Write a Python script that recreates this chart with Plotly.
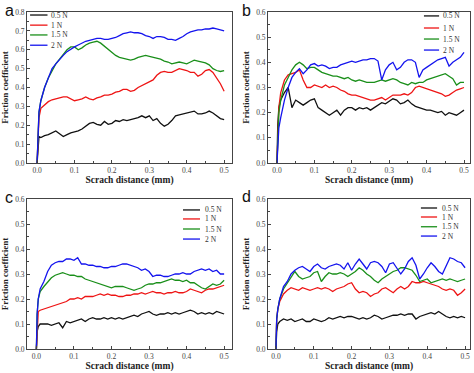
import plotly.graph_objects as go

# ---------------- data ----------------
DIST = [0.0, 0.002, 0.005,
        0.01, 0.02, 0.03, 0.04, 0.05, 0.06, 0.07, 0.08, 0.09, 0.10,
        0.11, 0.12, 0.13, 0.14, 0.15, 0.16, 0.17, 0.18, 0.19, 0.20,
        0.21, 0.22, 0.23, 0.24, 0.25, 0.26, 0.27, 0.28, 0.29, 0.30,
        0.31, 0.32, 0.33, 0.34, 0.35, 0.36, 0.37, 0.38, 0.39, 0.40,
        0.41, 0.42, 0.43, 0.44, 0.45, 0.46, 0.47, 0.48, 0.49, 0.50]

LOADS = ["0.5 N", "1 N", "1.5 N", "2 N"]
COLORS = ["#111111", "#ee1414", "#1a8f1a", "#1414ee"]
PANELS = ["a", "b", "c", "d"]
X_TICKS = [0.0, 0.1, 0.2, 0.3, 0.4, 0.5]
X_TITLE = "Scrach distance (mm)"
Y_TITLE = "Friction coefficient"

A_05 = [0, 0.08, 0.14,
        0.135, 0.145, 0.15, 0.16, 0.17, 0.155, 0.14, 0.15, 0.16, 0.165,
        0.17, 0.18, 0.195, 0.21, 0.215, 0.205, 0.20, 0.22, 0.205, 0.21,
        0.225, 0.22, 0.23, 0.225, 0.23, 0.235, 0.24, 0.25, 0.24, 0.25,
        0.225, 0.235, 0.21, 0.195, 0.205, 0.225, 0.25, 0.255, 0.26, 0.265,
        0.27, 0.275, 0.26, 0.26, 0.265, 0.275, 0.265, 0.25, 0.235, 0.23]
A_1 = [0, 0.15, 0.24,
       0.29, 0.31, 0.325, 0.335, 0.34, 0.345, 0.35, 0.35, 0.34, 0.33,
       0.335, 0.34, 0.35, 0.34, 0.335, 0.345, 0.35, 0.36, 0.36, 0.365,
       0.375, 0.38, 0.39, 0.39, 0.38, 0.385, 0.40, 0.41, 0.42, 0.43,
       0.44, 0.465, 0.48, 0.485, 0.48, 0.48, 0.49, 0.50, 0.495, 0.49,
       0.48, 0.48, 0.46, 0.47, 0.49, 0.495, 0.48, 0.45, 0.42, 0.38]
A_15 = [0, 0.17, 0.27,
        0.33, 0.40, 0.45, 0.49, 0.525, 0.55, 0.575, 0.60, 0.615, 0.615,
        0.60, 0.61, 0.625, 0.635, 0.64, 0.645, 0.635, 0.62, 0.60, 0.585,
        0.57, 0.56, 0.555, 0.55, 0.545, 0.55, 0.56, 0.565, 0.57, 0.565,
        0.56, 0.555, 0.55, 0.54, 0.535, 0.525, 0.53, 0.535, 0.53, 0.525,
        0.535, 0.545, 0.54, 0.535, 0.53, 0.52, 0.50, 0.49, 0.485, 0.49]
A_2 = [0, 0.17, 0.27,
       0.33, 0.40, 0.45, 0.50, 0.525, 0.55, 0.57, 0.59, 0.605, 0.615,
       0.625, 0.635, 0.645, 0.65, 0.655, 0.66, 0.66, 0.655, 0.655, 0.66,
       0.665, 0.675, 0.685, 0.69, 0.695, 0.69, 0.69, 0.685, 0.675, 0.67,
       0.66, 0.67, 0.67, 0.665, 0.655, 0.655, 0.65, 0.66, 0.67, 0.685,
       0.695, 0.70, 0.705, 0.705, 0.71, 0.71, 0.715, 0.71, 0.705, 0.70]

B_05 = [0, 0.15, 0.22,
        0.25, 0.28, 0.30, 0.22, 0.25, 0.24, 0.23, 0.24, 0.25, 0.255,
        0.22, 0.21, 0.20, 0.19, 0.20, 0.21, 0.19, 0.21, 0.22, 0.22,
        0.21, 0.22, 0.215, 0.22, 0.21, 0.22, 0.23, 0.24, 0.235, 0.245,
        0.255, 0.25, 0.235, 0.24, 0.25, 0.235, 0.225, 0.22, 0.215, 0.21,
        0.21, 0.205, 0.20, 0.205, 0.19, 0.20, 0.195, 0.19, 0.20, 0.21]
B_1 = [0, 0.14, 0.22,
       0.28, 0.33, 0.35, 0.355, 0.36, 0.37, 0.33, 0.30, 0.30, 0.31,
       0.305, 0.30, 0.31, 0.30, 0.305, 0.30, 0.29, 0.285, 0.275, 0.27,
       0.27, 0.265, 0.26, 0.255, 0.25, 0.25, 0.255, 0.26, 0.25, 0.26,
       0.27, 0.27, 0.27, 0.275, 0.27, 0.28, 0.30, 0.305, 0.30, 0.295,
       0.29, 0.285, 0.28, 0.275, 0.265, 0.27, 0.28, 0.29, 0.295, 0.30]
B_15 = [0, 0.13, 0.2,
        0.25, 0.31, 0.34, 0.37, 0.39, 0.40, 0.39, 0.375, 0.38, 0.38,
        0.37, 0.36, 0.355, 0.35, 0.345, 0.345, 0.34, 0.335, 0.34, 0.33,
        0.325, 0.33, 0.325, 0.32, 0.32, 0.32, 0.325, 0.33, 0.325, 0.33,
        0.335, 0.33, 0.32, 0.315, 0.31, 0.32, 0.315, 0.32, 0.32, 0.33,
        0.335, 0.34, 0.345, 0.35, 0.355, 0.345, 0.335, 0.31, 0.32, 0.32]
B_2 = [0, 0.09, 0.14,
       0.18, 0.25, 0.30, 0.34, 0.36, 0.375, 0.355, 0.37, 0.39, 0.395,
       0.385, 0.39, 0.385, 0.375, 0.38, 0.38, 0.39, 0.395, 0.40, 0.405,
       0.40, 0.405, 0.41, 0.41, 0.415, 0.415, 0.405, 0.33, 0.37, 0.39,
       0.40, 0.37, 0.38, 0.40, 0.41, 0.41, 0.40, 0.34, 0.37, 0.38,
       0.39, 0.40, 0.41, 0.415, 0.42, 0.385, 0.40, 0.41, 0.42, 0.44]

C_05 = [0, 0.07, 0.09,
        0.10, 0.10, 0.10, 0.095, 0.10, 0.105, 0.085, 0.11, 0.105, 0.11,
        0.115, 0.12, 0.11, 0.12, 0.125, 0.12, 0.12, 0.125, 0.12, 0.125,
        0.12, 0.125, 0.12, 0.125, 0.13, 0.135, 0.13, 0.14, 0.145, 0.15,
        0.14, 0.135, 0.14, 0.14, 0.145, 0.14, 0.145, 0.14, 0.145, 0.15,
        0.155, 0.15, 0.14, 0.145, 0.14, 0.145, 0.14, 0.15, 0.145, 0.14]
C_1 = [0, 0.10, 0.15,
       0.155, 0.16, 0.165, 0.17, 0.175, 0.18, 0.185, 0.19, 0.20, 0.20,
       0.205, 0.20, 0.21, 0.21, 0.21, 0.215, 0.22, 0.215, 0.22, 0.215,
       0.215, 0.21, 0.21, 0.215, 0.215, 0.22, 0.22, 0.225, 0.22, 0.225,
       0.23, 0.225, 0.225, 0.22, 0.225, 0.225, 0.23, 0.225, 0.225, 0.23,
       0.24, 0.235, 0.23, 0.225, 0.235, 0.24, 0.24, 0.245, 0.25, 0.255]
C_15 = [0, 0.14, 0.20,
        0.23, 0.25, 0.27, 0.285, 0.295, 0.30, 0.305, 0.30, 0.295, 0.295,
        0.29, 0.29, 0.28, 0.275, 0.27, 0.265, 0.26, 0.255, 0.25, 0.245,
        0.25, 0.25, 0.25, 0.245, 0.24, 0.235, 0.24, 0.245, 0.255, 0.26,
        0.26, 0.265, 0.265, 0.27, 0.275, 0.28, 0.275, 0.275, 0.27, 0.275,
        0.265, 0.265, 0.255, 0.245, 0.24, 0.25, 0.26, 0.255, 0.26, 0.275]
C_2 = [0, 0.14, 0.20,
       0.24, 0.27, 0.31, 0.335, 0.345, 0.35, 0.35, 0.36, 0.36, 0.355,
       0.365, 0.34, 0.34, 0.335, 0.335, 0.33, 0.33, 0.325, 0.325, 0.33,
       0.33, 0.335, 0.34, 0.34, 0.335, 0.33, 0.325, 0.315, 0.32, 0.31,
       0.29, 0.295, 0.295, 0.29, 0.29, 0.295, 0.30, 0.30, 0.305, 0.30,
       0.30, 0.31, 0.315, 0.32, 0.315, 0.32, 0.31, 0.315, 0.30, 0.30]

D_05 = [0, 0.07, 0.10,
        0.11, 0.12, 0.115, 0.12, 0.11, 0.115, 0.12, 0.11, 0.11, 0.12,
        0.115, 0.11, 0.115, 0.125, 0.12, 0.125, 0.13, 0.125, 0.13, 0.13,
        0.125, 0.12, 0.125, 0.12, 0.125, 0.135, 0.13, 0.12, 0.125, 0.13,
        0.135, 0.135, 0.14, 0.135, 0.14, 0.14, 0.12, 0.13, 0.135, 0.14,
        0.145, 0.14, 0.15, 0.14, 0.13, 0.125, 0.13, 0.125, 0.13, 0.125]
D_1 = [0, 0.12, 0.16,
       0.19, 0.22, 0.235, 0.245, 0.24, 0.235, 0.245, 0.24, 0.235, 0.24,
       0.245, 0.24, 0.245, 0.24, 0.23, 0.24, 0.245, 0.25, 0.26, 0.265,
       0.24, 0.225, 0.23, 0.225, 0.21, 0.22, 0.225, 0.24, 0.245, 0.235,
       0.225, 0.24, 0.25, 0.24, 0.25, 0.27, 0.265, 0.265, 0.27, 0.265,
       0.26, 0.255, 0.25, 0.24, 0.235, 0.24, 0.235, 0.215, 0.225, 0.24]
D_15 = [0, 0.12, 0.16,
        0.20, 0.24, 0.265, 0.29, 0.31, 0.29, 0.28, 0.285, 0.29, 0.305,
        0.31, 0.27, 0.29, 0.305, 0.30, 0.30, 0.305, 0.30, 0.29, 0.30,
        0.31, 0.325, 0.315, 0.30, 0.29, 0.275, 0.265, 0.28, 0.29, 0.30,
        0.31, 0.315, 0.325, 0.325, 0.32, 0.315, 0.295, 0.27, 0.275, 0.28,
        0.265, 0.27, 0.275, 0.28, 0.275, 0.28, 0.275, 0.27, 0.275, 0.28]
D_2 = [0, 0.12, 0.16,
       0.20, 0.25, 0.27, 0.30, 0.315, 0.325, 0.33, 0.32, 0.31, 0.33,
       0.34, 0.325, 0.32, 0.33, 0.335, 0.34, 0.335, 0.32, 0.345, 0.315,
       0.34, 0.36, 0.34, 0.32, 0.345, 0.35, 0.345, 0.33, 0.305, 0.34,
       0.345, 0.325, 0.30, 0.32, 0.35, 0.365, 0.335, 0.28, 0.30, 0.325,
       0.345, 0.33, 0.31, 0.30, 0.33, 0.365, 0.36, 0.35, 0.345, 0.325]

SERIES = [[A_05, A_1, A_15, A_2],
          [B_05, B_1, B_15, B_2],
          [C_05, C_1, C_15, C_2],
          [D_05, D_1, D_15, D_2]]
Y_MAX = [0.8, 0.6, 0.6, 0.6]

# ---------------- layout geometry (pixels of a 474x373 page) ----------------
W, H = 474, 373
# plot frames: (left, right, top, bottom) in px
FRAMES = [(27, 232, 12, 163), (268, 470, 12, 163),
          (27, 232, 199, 349), (268, 470, 199, 349)]
X_RANGES = [(-0.027, 0.521), (-0.024, 0.516), (-0.025, 0.521), (-0.021, 0.513)]
# legend geometry in axis-domain fractions: line x0, x1, text x, row ys
LEG = [(0.015, 0.10, 0.105, [0.98, 0.913, 0.848, 0.78]),
       (0.772, 0.847, 0.857, [0.974, 0.894, 0.821, 0.748]),
       (0.761, 0.844, 0.859, [0.927, 0.867, 0.80, 0.733]),
       (0.757, 0.837, 0.851, [0.94, 0.88, 0.815, 0.753])]
LABEL_POS = [(3, 0), (240, 0), (3, 187), (240, 186)]

SERIF = "Liberation Serif"
fig = go.Figure()
shapes, annots = [], []

for p in range(4):
    sfx = "" if p == 0 else str(p + 1)
    xa, ya = "x" + sfx, "y" + sfx
    for s in range(4):
        fig.add_trace(go.Scatter(x=DIST, y=SERIES[p][s], mode="lines",
                                 line=dict(color=COLORS[s], width=1.3),
                                 name=LOADS[s], showlegend=False,
                                 xaxis=xa, yaxis=ya))
    l, r, t, b = FRAMES[p]
    ymax = Y_MAX[p]
    yt = [round(i * 0.1, 1) for i in range(int(round(ymax * 10)) + 1)]
    common = dict(showline=True, linecolor="#444", linewidth=1, mirror=True,
                  ticks="inside", ticklen=3, tickwidth=1, tickcolor="#444",
                  showgrid=False, zeroline=False, automargin=False,
                  tickfont=dict(family=SERIF, size=7.5, color="#444"))
    fig.layout["xaxis" + sfx] = dict(
        common, domain=[l / W, r / W], range=list(X_RANGES[p]),
        anchor=ya, tickvals=X_TICKS, ticktext=["%.1f" % v for v in X_TICKS],
        minor=dict(ticks="inside", ticklen=2, dtick=0.05, tickcolor="#444"),
        title=dict(text="<b>%s</b>" % X_TITLE, standoff=2,
                   font=dict(family=SERIF, size=9.5, color="#222")))
    fig.layout["yaxis" + sfx] = dict(
        common, domain=[1 - b / H, 1 - t / H], range=[0, ymax],
        anchor=xa, tickvals=yt, ticktext=["%.1f" % v for v in yt],
        minor=dict(ticks="inside", ticklen=2, dtick=0.05, tickcolor="#444"),
        title=dict(text="<b>%s</b>" % Y_TITLE, standoff=4,
                   font=dict(family=SERIF, size=9, color="#222")))
    x0, x1, xt, rows = LEG[p]
    for s in range(4):
        shapes.append(dict(type="line", xref=xa + " domain", yref=ya + " domain",
                           x0=x0, x1=x1, y0=rows[s], y1=rows[s],
                           line=dict(color=COLORS[s], width=1.3)))
        annots.append(dict(xref=xa + " domain", yref=ya + " domain", x=xt, y=rows[s],
                           text=LOADS[s], showarrow=False, xanchor="left",
                           yanchor="middle",
                           font=dict(family=SERIF, size=7.5, color="#333")))
    lx, ly = LABEL_POS[p]
    annots.append(dict(xref="paper", yref="paper", x=lx / W, y=1 - ly / H,
                       text=PANELS[p], showarrow=False, xanchor="left",
                       yanchor="top", font=dict(family="Liberation Sans", size=16,
                                                color="#111")))

fig.update_layout(width=W, height=H, margin=dict(l=0, r=0, t=0, b=0),
                  paper_bgcolor="white", plot_bgcolor="white",
                  shapes=shapes, annotations=annots, showlegend=False)
fig.write_html("out.html", config={"displayModeBar": False},
               post_script="document.body.style.margin='0';"
                           "document.body.style.overflow='hidden';")
